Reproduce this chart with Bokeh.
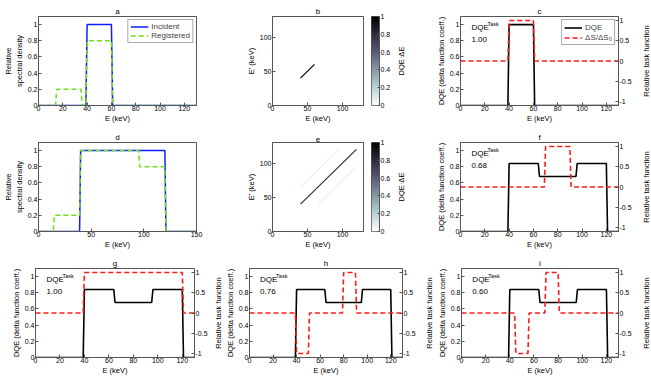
import numpy as np
from bokeh.plotting import figure
from bokeh.models import Range1d, LinearAxis, Legend, LegendItem, Label, LinearColorMapper
from bokeh.layouts import row, column
from bokeh.embed import file_html
from bokeh.resources import INLINE
from bokeh.transform import transform

# ---------------- data ----------------
# panel a: spectra (ideal detector)
a_inc_E = [0, 39, 40, 60, 61, 130]
a_incident = [0, 0, 1, 1, 0, 0]
a_reg_E = [0, 14, 15, 35, 36, 39, 40, 60, 61, 130]
a_registered = [0, 0, 0.2, 0.2, 0, 0, 0.8, 0.8, 0, 0]

# panel d: spectra (broad spectrum)
d_inc_E = [0, 39, 40, 120, 121, 150]
d_incident = [0, 0, 1, 1, 0, 0]
d_reg_E = [0, 14, 15, 39, 40, 95, 96, 120, 121, 150]
d_registered = [0, 0, 0.2, 0.2, 1, 1, 0.8, 0.8, 0, 0]

# panels b, e: response maps (segments E -> E')
b_E0, b_E1, b_Ep0, b_Ep1, b_val = [40], [60], [40], [60], [1.0]
e_E0 = [40, 40, 65]
e_E1 = [120, 95, 120]
e_Ep0 = [40, 65, 40]
e_Ep1 = [120, 120, 95]
e_val = [0.8, 0.06, 0.06]

# DQE curves
c_E = [0, 39, 40, 60, 61, 130]
c_dqe = [0, 0, 1, 1, 0, 0]
w_E = [0, 39, 40, 64, 65, 95, 96, 120, 121, 130]
w_dqe = [0, 0, 0.84, 0.84, 0.68, 0.68, 0.84, 0.84, 0, 0]

# task functions
c_task_E = [0, 39, 40, 60, 61, 130]
c_task = [0, 0, 1, 1, 0, 0]
f_task_E = [0, 69, 70, 90, 91, 130]
f_task = [0, 0, 1, 1, 0, 0]
g_task_E = [0, 39, 40, 120, 121, 130]
g_task = [0, 0, 1, 1, 0, 0]
h_task_E = [0, 39, 40, 50, 51, 79, 80, 90, 91, 130]
h_task = [0, 0, -1, -1, 0, 0, 1, 1, 0, 0]
i_task_E = [0, 44, 45, 55, 56, 69, 70, 80, 81, 130]
i_task = [0, 0, -1, -1, 0, 0, 1, 1, 0, 0]

dqe_task_values = {"c": "1.00", "f": "0.68", "g": "1.00", "h": "0.76", "i": "0.60"}

x_ticks_130 = [0, 20, 40, 60, 80, 100, 120]
x_ticks_150 = [0, 50, 100, 150]
img_ticks = [0, 50, 100]
y_ticks_dqe = [0, 0.2, 0.4, 0.6, 0.8, 1]
y_ticks_task = [-1, -0.5, 0, 0.5, 1]
task_labels = {-1: "-1", -0.5: "-0.5", 0: "0", 0.5: "0.5", 1: "1"}
cb_ticks = [0, 0.2, 0.4, 0.6, 0.8, 1]

# ---------------- style ----------------
FONT = "Liberation Sans"
AX = "#555555"
H = 126
MT = 16
MB = 21
BLUE = "#0a1eff"
GREEN = "#74e01a"
RED = "#ff1a1a"


def bone_rev(n=256):
    pal = []
    for k in range(n):
        t = 1 - k / (n - 1)
        r_hot = min(1.0, t / 0.375)
        g_hot = min(1.0, max(0.0, (t - 0.375) / 0.375))
        b_hot = min(1.0, max(0.0, (t - 0.75) / 0.25))
        r = (7 * t + b_hot) / 8
        g = (7 * t + g_hot) / 8
        b = (7 * t + r_hot) / 8
        pal.append("#%02x%02x%02x" % (round(r * 255), round(g * 255), round(b * 255)))
    return pal


mapper = LinearColorMapper(palette=bone_rev(), low=0, high=1)


def style_axis(ax):
    ax.major_label_text_font = FONT
    ax.major_label_text_font_size = "7px"
    ax.major_label_text_color = "black"
    ax.axis_label_text_font = FONT
    ax.axis_label_text_font_size = "7.5px"
    ax.axis_label_text_font_style = "normal"
    ax.axis_label_text_color = "black"
    ax.major_tick_in = 3
    ax.major_tick_out = 0
    ax.minor_tick_in = 0
    ax.minor_tick_out = 0
    ax.axis_line_color = AX
    ax.major_tick_line_color = AX
    ax.major_label_standoff = 1
    ax.axis_label_standoff = 1


def base(title, xmax, ymin, ymax, lb, fw, rb):
    p = figure(x_range=Range1d(0, xmax), y_range=Range1d(ymin, ymax),
               width=lb + fw + rb, height=H,
               min_border_left=lb, min_border_right=rb,
               min_border_top=MT, min_border_bottom=MB,
               toolbar_location=None, output_backend="svg", title=title)
    p.title.text_font = FONT
    p.title.text_font_size = "8px"
    p.title.text_font_style = "normal"
    p.title.text_color = "black"
    p.title.align = "center"
    p.title.standoff = 2
    p.grid.visible = False
    p.outline_line_color = AX
    p.outline_line_alpha = 1
    for ax in p.axis:
        style_axis(ax)
    for ax in p.xaxis:
        ax.major_label_standoff = 0
        ax.axis_label_standoff = 0
    return p


def label_fig(text, w):
    # narrow figure that only carries a rotated (bottom-to-top) axis title
    p = figure(x_range=Range1d(0, 1), y_range=Range1d(0, 1),
               width=w, height=H,
               min_border_left=w - 1, min_border_right=0,
               min_border_top=MT, min_border_bottom=MB,
               toolbar_location=None, output_backend="svg")
    p.outline_line_color = None
    p.grid.visible = False
    p.xaxis.visible = False
    for ax in p.yaxis:
        style_axis(ax)
        ax.ticker = []
        ax.axis_line_color = None
        ax.major_tick_line_color = None
        ax.major_label_standoff = 0
        ax.axis_label_standoff = 0
        ax.axis_label = text
    return p


def style_legend(lg):
    lg.label_text_font = FONT
    lg.label_text_font_size = "8px"
    lg.label_height = 9
    lg.glyph_height = 9
    lg.glyph_width = 18
    lg.label_standoff = 3
    lg.spacing = 0
    lg.padding = 2
    lg.margin = 3
    lg.border_line_color = AX
    lg.border_line_width = 1
    lg.background_fill_alpha = 1


def spectrum_panel(title, xmax, xticks, inc_E, inc, reg_E, reg, legend):
    p = base(title, xmax, 0, 1.1, 35, 161, 34)
    p.xaxis.ticker = xticks
    p.xaxis.axis_label = "E (keV)"
    p.yaxis.ticker = y_ticks_dqe
    p.yaxis.major_label_overrides = {0: "0", 1: "1"}
    p.yaxis.axis_label = "Relative\nspectral density"
    r1 = p.line(inc_E, inc, line_color=BLUE, line_width=1.5)
    r2 = p.line(reg_E, reg, line_color=GREEN, line_width=1.5, line_dash="5 3")
    if legend:
        lg = Legend(items=[LegendItem(label="Incident", renderers=[r1]),
                           LegendItem(label="Registered", renderers=[r2])],
                    location="top_right")
        style_legend(lg)
        p.add_layout(lg)
    return p


def map_panel(title, E0, E1, Ep0, Ep1, val):
    p = base(title, 130, 0, 130, 42, 91, 3)
    p.xaxis.ticker = img_ticks
    p.yaxis.ticker = img_ticks
    p.xaxis.axis_label = "E (keV)"
    p.yaxis.axis_label = "E' (keV)"
    src = dict(x0=E0, x1=E1, y0=Ep0, y1=Ep1, v=val)
    p.segment(x0="x0", y0="y0", x1="x1", y1="y1", source=src,
              line_color=transform("v", mapper), line_width=1.2)
    return p


def colorbar_fig():
    p = figure(x_range=Range1d(0, 1), y_range=Range1d(0, 1),
               width=27, height=H,
               min_border_left=5, min_border_right=11,
               min_border_top=MT, min_border_bottom=MB,
               toolbar_location=None, output_backend="svg", y_axis_location="right")
    p.grid.visible = False
    p.outline_line_color = AX
    p.xaxis.visible = False
    grad = np.linspace(0, 1, 256).reshape(-1, 1)
    p.image(image=[grad], x=0, y=0, dw=1, dh=1, color_mapper=mapper)
    for ax in p.yaxis:
        style_axis(ax)
        ax.ticker = cb_ticks
        ax.major_label_overrides = {0: "0", 1: "1"}
        ax.major_tick_in = 2
    return p


def task_panel(title, lb, fw, E_dqe, dqe, E_task, task, key, legend=False):
    p = base(title, 130, 0, 1.1, lb, fw, 14)
    p.xaxis.ticker = x_ticks_130
    p.xaxis.axis_label = "E (keV)"
    p.yaxis.ticker = y_ticks_dqe
    p.yaxis.major_label_overrides = {0: "0", 1: "1"}
    p.yaxis.axis_label = "DQE (delta function coeff.)"
    p.extra_y_ranges = {"task": Range1d(-1.1, 1.1)}
    ax = LinearAxis(y_range_name="task")
    ax.ticker = y_ticks_task
    ax.major_label_overrides = task_labels
    style_axis(ax)
    p.add_layout(ax, "right")
    r1 = p.line(E_dqe, dqe, line_color="black", line_width=1.6)
    r2 = p.line(E_task, task, y_range_name="task", line_color=RED,
                line_width=1.6, line_dash="5 3")
    p.add_layout(Label(x=9, y=0.97, text="DQE", text_font=FONT, text_color="black",
                       text_font_size="8px", text_baseline="middle"))
    p.add_layout(Label(x=9, y=0.97, x_offset=16, y_offset=3, text="Task", text_color="black",
                       text_font=FONT, text_font_size="5.5px", text_baseline="middle"))
    p.add_layout(Label(x=9, y=0.82, text=dqe_task_values[key], text_font=FONT,
                       text_color="black", text_font_size="8px", text_baseline="middle"))
    if legend:
        lg = Legend(items=[LegendItem(label="DQE", renderers=[r1]),
                           LegendItem(label="ΔS/ΔS₀", renderers=[r2])],
                    location="top_right")
        style_legend(lg)
        lg.label_height = 10
        p.add_layout(lg)
    return p


RT = "Relative task function"

pa = spectrum_panel("a", 130, x_ticks_130, a_inc_E, a_incident, a_reg_E, a_registered, True)
pb = map_panel("b", b_E0, b_E1, b_Ep0, b_Ep1, b_val)
cb1 = colorbar_fig()
cbl1 = label_fig("DQE·ΔE", 12)
pc = task_panel("c", 55, 160, c_E, c_dqe, c_task_E, c_task, "c", legend=True)
pcl = label_fig(RT, 17)

pd = spectrum_panel("d", 150, x_ticks_150, d_inc_E, d_incident, d_reg_E, d_registered, False)
pe = map_panel("e", e_E0, e_E1, e_Ep0, e_Ep1, e_val)
cb2 = colorbar_fig()
cbl2 = label_fig("DQE·ΔE", 12)
pf = task_panel("f", 55, 160, w_E, w_dqe, f_task_E, f_task, "f")
pfl = label_fig(RT, 17)

pg = task_panel("g", 35, 161, w_E, w_dqe, g_task_E, g_task, "g")
pgl = label_fig(RT, 12)
ph = task_panel("h", 24, 158, w_E, w_dqe, h_task_E, h_task, "h")
phl = label_fig(RT, 16)
pi = task_panel("i", 26, 160, w_E, w_dqe, i_task_E, i_task, "i")
pil = label_fig(RT, 17)

layout = column(row(pa, pb, cb1, cbl1, pc, pcl),
                row(pd, pe, cb2, cbl2, pf, pfl),
                row(pg, pgl, ph, phl, pi, pil))

open("out.html", "w").write(file_html(layout, INLINE))
